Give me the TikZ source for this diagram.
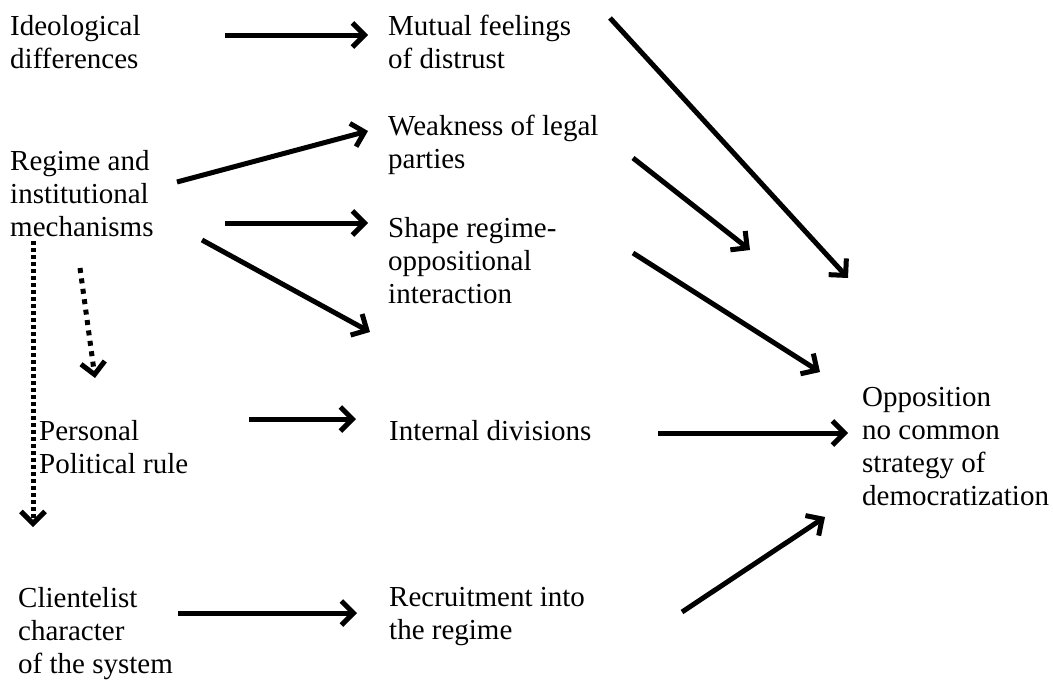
\documentclass[tikz,border=0pt]{standalone}
\usepackage{fontspec}
\setmainfont{Liberation Serif}
\usetikzlibrary{arrows.meta}

\tikzset{
  lbl/.style={anchor=north west, inner sep=0pt, align=left, font=\fontsize{29}{33}\selectfont},
  tipbarb/.style={-{Straight Barb[length=12pt,width=24pt]}},
  arr/.style={line width=5pt, tipbarb},
  dotarr/.style={line width=5pt, dash pattern=on 4pt off 3pt, tipbarb},
  sparsedot/.style={line width=5pt, dash pattern=on 5pt off 5.5pt, tipbarb}
}

\begin{document}
\begin{tikzpicture}[x=1pt, y=-1pt]
    \useasboundingbox (0,0) rectangle (1053,680);

    % Left column
    \node[lbl] (ideo) at (10,15) {Ideological\\differences};
    \node[lbl] (regime) at (10,150) {Regime and\\institutional\\mechanisms};
    \node[lbl] (personal) at (39,420) {Personal\\Political rule};
    \node[lbl] (client) at (18,587) {Clientelist\\character\\of the system};

    % Middle column
    \node[lbl] (distrust) at (388,15) {Mutual feelings\\of distrust};
    \node[lbl] (weak) at (388,115) {Weakness of legal\\parties};
    \node[lbl] (shape) at (388,217) {Shape regime-\\oppositional\\interaction};
    \node[lbl] (divisions) at (389,420) {Internal divisions};
    \node[lbl] (recruit) at (389,587) {Recruitment into\\the regime};

    % Outcome
    \node[lbl] (opp) at (862,387) {Opposition\\no common\\strategy of\\democratization};

    % Arrow ends
    \coordinate (ideo-out) at (225,35);
    \coordinate (distrust-in) at (368,35);
    \coordinate (regime-out1) at (177,182);
    \coordinate (weak-in) at (368,131);
    \coordinate (regime-out2) at (225,223);
    \coordinate (shape-in) at (368,223);
    \coordinate (regime-out3) at (202,240);
    \coordinate (regime-end3) at (370,332);
    \coordinate (weak-out) at (633,158);
    \coordinate (weak-end) at (750,250);
    \coordinate (distrust-out) at (610,18);
    \coordinate (distrust-end) at (848,278);
    \coordinate (shape-out) at (633,253);
    \coordinate (opp-in1) at (820,372);
    \coordinate (divisions-out) at (658,433);
    \coordinate (opp-in2) at (848,433);
    \coordinate (recruit-out) at (682,612);
    \coordinate (opp-in3) at (825,517);
    \coordinate (personal-out) at (249,419);
    \coordinate (divisions-in) at (356,419);
    \coordinate (client-out) at (178,613);
    \coordinate (recruit-in) at (357,613);
    \coordinate (regime-down) at (33,241);
    \coordinate (regime-downend) at (33,527);
    \coordinate (regime-short) at (80,268);
    \coordinate (personal-in) at (95,378);

    % Solid arrows
    \draw[arr] (ideo-out) -- (distrust-in);
    \draw[arr] (regime-out1) -- (weak-in);
    \draw[arr] (regime-out2) -- (shape-in);
    \draw[arr] (regime-out3) -- (regime-end3);
    \draw[arr] (weak-out) -- (weak-end);
    \draw[arr] (distrust-out) -- (distrust-end);
    \draw[arr] (shape-out) -- (opp-in1);
    \draw[arr] (divisions-out) -- (opp-in2);
    \draw[arr] (recruit-out) -- (opp-in3);
    \draw[arr] (personal-out) -- (divisions-in);
    \draw[arr] (client-out) -- (recruit-in);

    % Dotted arrows
    \draw[dotarr] (regime-down) -- (regime-downend);
    \draw[sparsedot] (regime-short) -- (personal-in);
\end{tikzpicture}
\end{document}
